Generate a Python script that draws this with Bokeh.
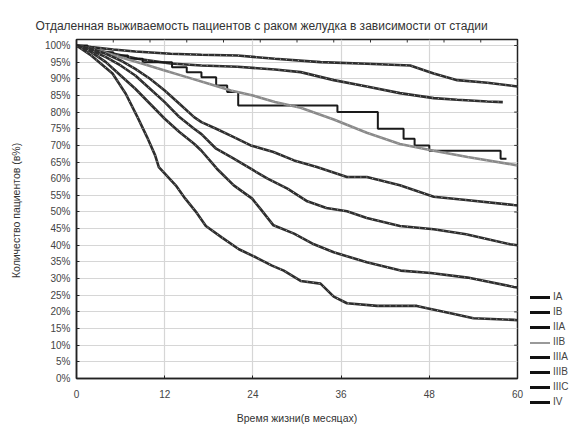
from bokeh.plotting import figure
from bokeh.models import FixedTicker, PrintfTickFormatter, Range1d, Div
from bokeh.layouts import row
from bokeh.embed import file_html
from bokeh.resources import INLINE

# ---------------- data ----------------
title_text = "Отдаленная выживаемость пациентов с раком желудка в зависимости от стадии"
x_label = "Время жизни(в месяцах)"
y_label = "Количество пациентов  (в%)"

x_ticks = [0, 12, 24, 36, 48, 60]
x_minor_top = [5, 10, 15, 20, 25, 30, 35, 40, 45, 50, 55]
y_ticks = [0, 5, 10, 15, 20, 25, 30, 35, 40, 45, 50, 55, 60, 65, 70, 75, 80, 85, 90, 95, 100]
y_right_ticks = [10, 20, 30, 40, 50, 60, 70, 80, 90, 100]

stages = ["IA", "IB", "IIA", "IIB", "IIIA", "IIIB", "IIIC", "IV"]

months_IA = [0, 2, 5, 8, 12.8, 17, 21.9, 27, 33.2, 39.5, 45.4, 48.6, 51.8, 55.9, 60]
surv_IA = [100, 99.5, 98.8, 98.2, 97.5, 97.2, 97.0, 96.0, 95.0, 94.5, 94.0, 91.6, 89.6, 88.8, 87.7]

months_IB = [0, 3, 8.3, 12.8, 17, 21.9, 27, 30.5, 35, 39.5, 44, 48.6, 51.8, 55.9, 58]
surv_IB = [100, 98.5, 96.0, 94.6, 94.0, 93.6, 92.8, 92.0, 89.6, 87.7, 85.7, 84.2, 83.7, 83.2, 83.0]

months_IIA = [0, 1.5, 3, 5, 7, 9, 13, 15, 17, 19, 20.5, 22, 35.5, 41, 44.5, 46, 48, 57.7, 58.5]
surv_IIA = [100, 99, 98, 97, 96, 95, 93.5, 92, 90.5, 88, 86, 82, 80, 75, 72, 70, 68.4, 66, 66]

months_IIB = [0, 3, 6, 9, 12, 15, 18, 21, 24, 27, 30.5, 35, 39.5, 44, 48.6, 53.2, 60]
surv_IIB = [100, 98.5, 96.5, 94.5, 92.5, 90.5, 88.5, 86.5, 85.0, 83.0, 81.3, 77.8, 73.8, 70.4, 68.4, 66.5, 64.0]

months_IIIA = [0, 2, 4, 6, 8, 10, 12, 14, 16, 17, 19, 21.4, 23.7, 26.8, 29.6, 32.7, 36.8, 39.5, 44, 48.6, 53, 59.5, 60]
surv_IIIA = [100, 99, 97.5, 95.5, 93, 90, 86.5, 82.5, 78.5, 77, 75, 72.5, 70, 68, 65.5, 63.5, 60.5, 60.5, 58, 54.6, 53.6, 52.1, 52]

months_IIIB = [0, 2, 4, 6, 8, 10, 12, 14, 16, 17, 19, 21.4, 23.7, 26, 28.7, 31.4, 34, 36.8, 39.5, 44, 48.6, 53, 59, 60]
surv_IIIB = [100, 98.5, 96.5, 94, 91, 87, 83.0, 78.5, 75, 73.4, 69, 66, 63, 60, 57, 53.2, 51.2, 50.2, 48.2, 45.8, 44.8, 43.3, 40.3, 40]

months_IIIC = [0, 2, 4, 6, 8, 10, 12, 14, 16, 17, 19.1, 21.4, 23.9, 25, 26.8, 29.6, 32.3, 35, 39.5, 44.1, 48.2, 53.2, 59.5, 60]
surv_IIIC = [100, 98, 95, 91, 87, 82.5, 78, 74, 70.5, 68.4, 63, 58, 54, 51, 46, 43.5, 40.3, 37.9, 34.9, 32.4, 31.7, 30.3, 27.5, 27.3]

months_IV = [0, 2, 4.9, 6.7, 8.3, 9.6, 10.7, 11.2, 13.5, 14.8, 16.2, 17.6, 19.8, 22.1, 24.4, 26.6, 28.2, 30.5, 33.2, 35, 36.8, 40.9, 46.3, 47.7, 50.9, 54, 59.5, 60]
surv_IV = [100, 97, 91.6, 85.5, 78.5, 72.5, 67, 63.5, 58, 54, 50.2, 45.8, 42.3, 38.8, 36.4, 33.9, 32.4, 29.3, 28.5, 24.6, 22.6, 21.8, 21.8, 21.1, 19.6, 18.1, 17.6, 17.5]

FONT = "Liberation Sans"
X_MAX = 60
Y_MAX = 101.8

# ---------------- main figure ----------------
p = figure(width=524, height=426, output_backend="svg", toolbar_location=None,
           x_range=Range1d(0, X_MAX), y_range=Range1d(0, Y_MAX),
           min_border_left=76, min_border_right=7, min_border_top=39, min_border_bottom=43)

p.title.text = title_text
p.title.align = "left"
p.title.offset = -41
p.title.text_font = FONT
p.title.text_font_size = "12px"
p.title.text_font_style = "normal"
p.title.text_color = "#333333"
p.title.standoff = 14

p.outline_line_color = "#222222"
p.outline_line_width = 1.5
p.background_fill_color = "white"
p.border_fill_color = "white"

# grids
p.xgrid.ticker = FixedTicker(ticks=[12, 24, 36, 48])
p.ygrid.ticker = FixedTicker(ticks=y_ticks)
p.xgrid.grid_line_color = "#d6d6d6"
p.ygrid.grid_line_color = "#d6d6d6"
p.xgrid.grid_line_width = 1.2
p.ygrid.grid_line_width = 1.2

# axes
for ax in (p.xaxis[0], p.yaxis[0]):
    ax.axis_line_color = "#222222"
    ax.axis_line_width = 1.5
    ax.major_tick_line_color = "#222222"
    ax.major_tick_in = 3
    ax.major_tick_out = 0
    ax.minor_tick_line_color = None
    ax.major_label_text_font = FONT
    ax.major_label_text_font_size = "10px"
    ax.major_label_text_color = "#444444"
    ax.axis_label_text_font = FONT
    ax.axis_label_text_font_size = "10.5px"
    ax.axis_label_text_font_style = "normal"
    ax.axis_label_text_color = "#333333"

p.xaxis.ticker = FixedTicker(ticks=x_ticks)
p.yaxis.ticker = FixedTicker(ticks=y_ticks)
p.yaxis.formatter = PrintfTickFormatter(format="%d%%")
p.xaxis.axis_label = x_label
p.yaxis.axis_label = y_label
p.xaxis.major_label_standoff = 11
p.yaxis.major_label_standoff = 6
p.xaxis.axis_label_standoff = 11
p.yaxis.axis_label_standoff = 20

# small inward ticks on the top and right frame edges
p.segment(x0=x_minor_top, y0=[Y_MAX] * len(x_minor_top), x1=x_minor_top,
          y1=[Y_MAX - 0.9] * len(x_minor_top), line_color="#333333", line_width=1)
p.segment(x0=[X_MAX] * len(y_right_ticks), y0=y_right_ticks,
          x1=[X_MAX - 0.45] * len(y_right_ticks), y1=y_right_ticks,
          line_color="#333333", line_width=1)

# curves
dark = "#2e2e2e"
series = [
    (months_IA, surv_IA, dark, 2.6, "line"),
    (months_IB, surv_IB, dark, 2.6, "line"),
    (months_IIA, surv_IIA, "#1a1a1a", 2.0, "step"),
    (months_IIB, surv_IIB, "#8a8a8a", 2.6, "line"),
    (months_IIIA, surv_IIIA, dark, 2.6, "line"),
    (months_IIIB, surv_IIIB, dark, 2.6, "line"),
    (months_IIIC, surv_IIIC, dark, 2.6, "line"),
    (months_IV, surv_IV, dark, 2.6, "line"),
]
for xs, ys, col, w, kind in series:
    if kind == "step":
        p.step(xs, ys, mode="after", line_color=col, line_width=w)
    else:
        p.line(xs, ys, line_color=col, line_width=w)
        p.line(xs, ys, line_color="#b5b5b5", line_width=1.0, line_dash="1 5")

# ---------------- legend strip (HTML block to the right of the plot) ----------------
rows_html = []
for i, st in enumerate(stages):
    col = "#999999" if st == "IIB" else "#111111"
    h = 2 if st == "IIB" else 3.5
    rows_html.append(
        f'<div style="position:absolute;left:6px;top:{290 + 15 * i}px;height:15px;'
        f'display:flex;align-items:center;white-space:nowrap;">'
        f'<span style="display:inline-block;width:20px;height:{h}px;background:{col};'
        f'margin-right:3px;"></span>{st}</div>'
    )
legend_html = (
    f'<div style="position:relative;width:52px;height:426px;overflow:hidden;'
    f'font-family:\'{FONT}\';font-size:10px;color:#444444;">' + "".join(rows_html) + "</div>"
)
lg = Div(text=legend_html, width=52, height=426, margin=0)

layout = row(p, lg, spacing=0)
open("out.html", "w").write(file_html(layout, INLINE))
